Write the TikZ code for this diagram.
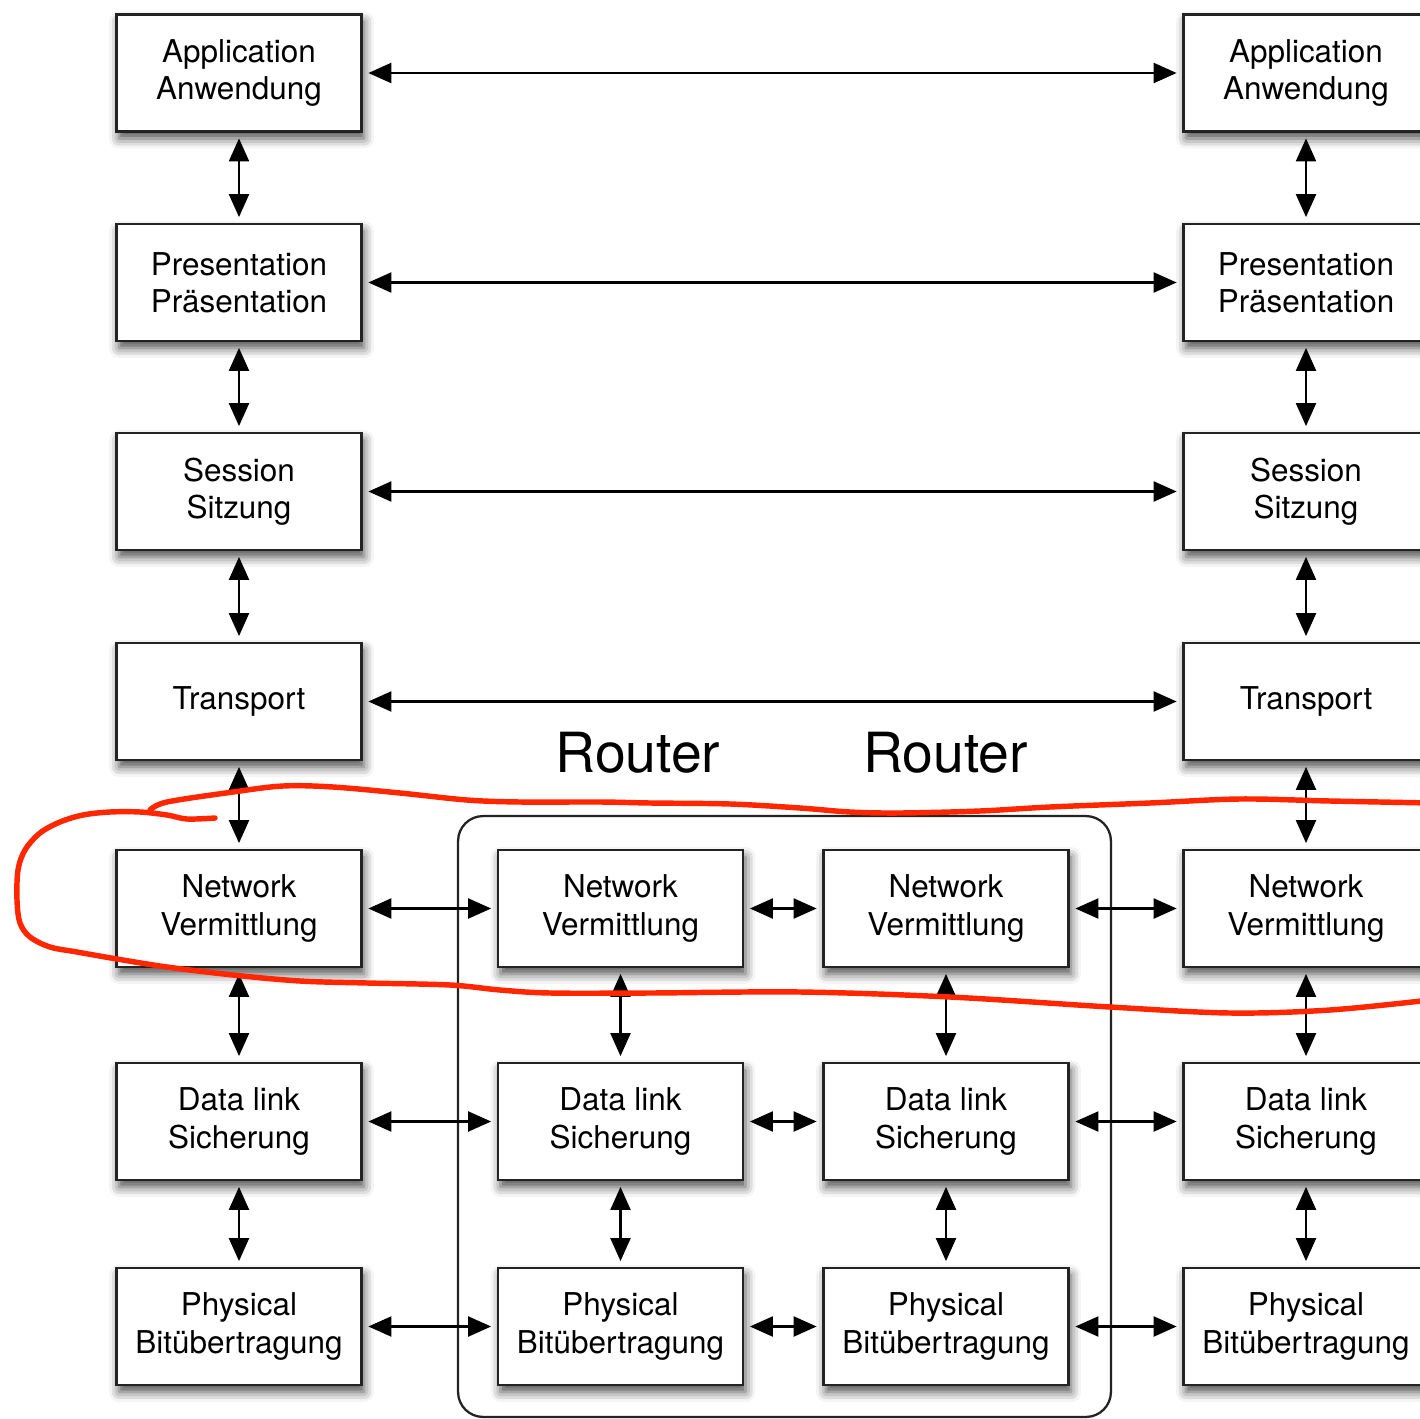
\documentclass[tikz,border=0pt]{standalone}
\usepackage{fontspec}
\setmainfont{TeX Gyre Heros}
\usetikzlibrary{arrows.meta,shadows.blur}
\definecolor{marker}{RGB}{255,38,0}
\definecolor{frame}{RGB}{35,35,35}
\tikzset{
  layer/.style={draw=frame, line width=1.6pt, fill=white,
    minimum width=4.9cm, minimum height=2.34cm, inner sep=0pt,
    align=center, font=\fontsize{17.9}{21.2}\selectfont,
    blur shadow={shadow xshift=0.05cm, shadow yshift=-0.14cm,
      shadow blur radius=0.2cm, shadow opacity=70}},
  link/.style={line width=1.25pt,
    {Triangle[length=0.46cm,width=0.4cm]}-{Triangle[length=0.46cm,width=0.4cm]},
    shorten <=0.11cm, shorten >=0.11cm},
  routerbox/.style={draw=frame, line width=1.3pt, rounded corners=0.5cm,
    minimum width=13.06cm, minimum height=12.02cm},
  routerlabel/.style={font=\fontsize{31.5}{36}\selectfont, inner sep=0pt},
  pen/.style={draw=marker, line width=3.1pt, line cap=round, line join=round}
}
\begin{document}
\begin{tikzpicture}[x=0.02cm, y=-0.02cm]
\useasboundingbox (0,0) rectangle (1420,1419);
\clip (0,0) rectangle (1420,1419);

% frame around the two routers
\node[routerbox] (routers) at (784.5,1116.5) {};
\node[routerlabel] (rlabA) at (638,753) {Router};
\node[routerlabel] (rlabB) at (945.5,753) {Router};

% end system, left
\node[layer] (L1) at (239,73)     {Application\\Anwendung};
\node[layer] (L2) at (239,282.5)  {Presentation\\Präsentation};
\node[layer] (L3) at (239,491.5)  {Session\\Sitzung};
\node[layer] (L4) at (239,701.5)  {Transport};
\node[layer] (L5) at (239,908.5)  {Network\\Vermittlung};
\node[layer] (L6) at (239,1121.5) {Data link\\Sicherung};
\node[layer] (L7) at (239,1326.5) {Physical\\Bitübertragung};

% end system, right
\node[layer] (R1) at (1306,73)     {Application\\Anwendung};
\node[layer] (R2) at (1306,282.5)  {Presentation\\Präsentation};
\node[layer] (R3) at (1306,491.5)  {Session\\Sitzung};
\node[layer] (R4) at (1306,701.5)  {Transport};
\node[layer] (R5) at (1306,908.5)  {Network\\Vermittlung};
\node[layer] (R6) at (1306,1121.5) {Data link\\Sicherung};
\node[layer] (R7) at (1306,1326.5) {Physical\\Bitübertragung};

% routers
\node[layer] (A5) at (620.5,908.5)  {Network\\Vermittlung};
\node[layer] (A6) at (620.5,1121.5) {Data link\\Sicherung};
\node[layer] (A7) at (620.5,1326.5) {Physical\\Bitübertragung};
\node[layer] (B5) at (946,908.5)  {Network\\Vermittlung};
\node[layer] (B6) at (946,1121.5) {Data link\\Sicherung};
\node[layer] (B7) at (946,1326.5) {Physical\\Bitübertragung};

% peer-to-peer links
\draw[link] (L1) -- (R1);
\draw[link] (L2) -- (R2);
\draw[link] (L3) -- (R3);
\draw[link] (L4) -- (R4);
\foreach \r in {5,6,7} {
  \draw[link] (L\r) -- (A\r);
  \draw[link] (A\r) -- (B\r);
  \draw[link] (B\r) -- (R\r);
}

% links down the stacks
\foreach \a/\b in {1/2,2/3,3/4,4/5,5/6,6/7} {
  \draw[link] (L\a) -- (L\b);
  \draw[link] (R\a) -- (R\b);
}
\foreach \a/\b in {5/6,6/7} {
  \draw[link] (A\a) -- (A\b);
  \draw[link] (B\a) -- (B\b);
}

% hand-drawn marking round the network layer
\draw[pen] plot[smooth, tension=0.55] coordinates {
  (1430,803) (1330,801) (1240,799) (1150,803) (1050,807) (980,811)
  (900,813) (850,812) (800,808) (730,804) (650,803) (600,802)
  (520,802) (467,800) (400,793) (333,787) (283,786) (233,792)
  (167,802) (150,810)};
\draw[pen] plot[smooth, tension=0.55] coordinates {
  (215,818) (187,819) (167,815) (140,812) (110,812) (83,815)
  (60,822) (40,833) (25,850) (18,870) (17,900) (20,923) (30,937)
  (50,947) (77,952) (117,959) (167,967) (233,975) (300,981)
  (367,983) (450,985) (500,990) (550,993) (650,993) (800,992)
  (950,997) (1110,1007) (1230,1013) (1330,1010) (1430,1000)};
\end{tikzpicture}
\end{document}
